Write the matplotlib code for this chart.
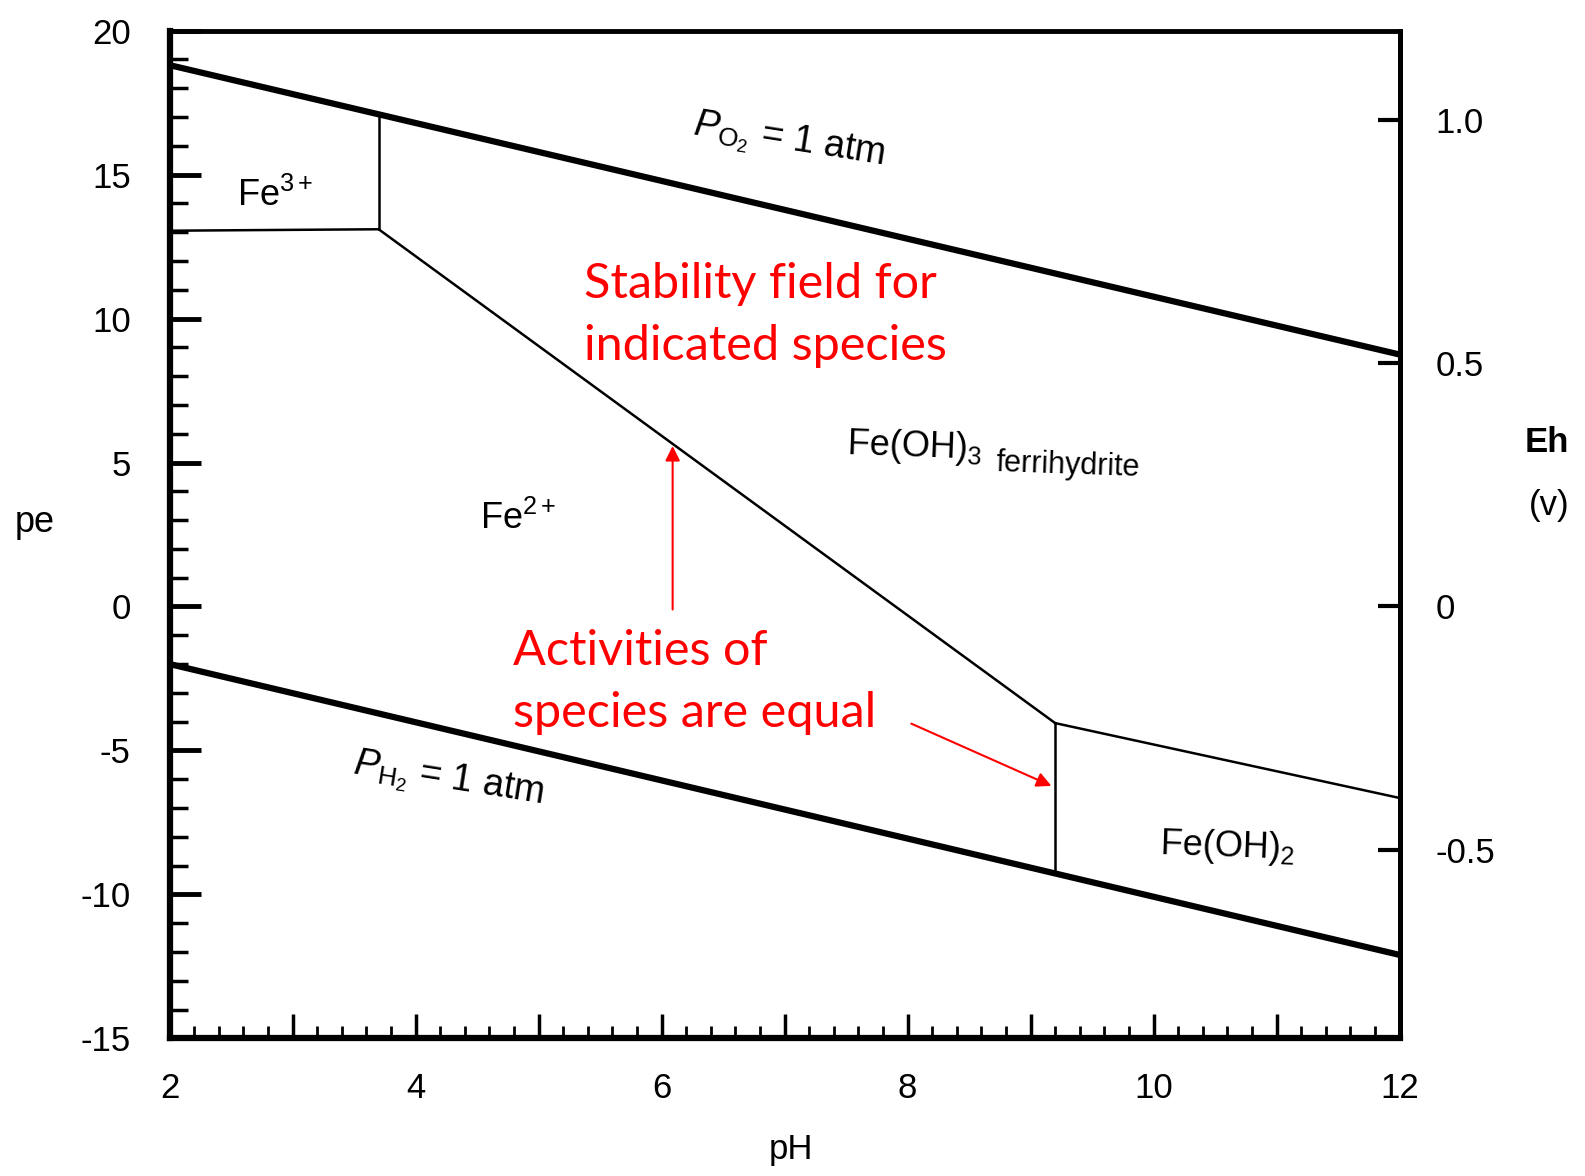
import numpy as np
import matplotlib
matplotlib.use('Agg')
import matplotlib.pyplot as plt
from matplotlib.ticker import MultipleLocator, FixedLocator

plt.rcParams['font.family'] = ['Liberation Sans', 'DejaVu Sans']
plt.rcParams['mathtext.fontset'] = 'custom'
plt.rcParams['mathtext.rm'] = 'Liberation Sans'
plt.rcParams['mathtext.it'] = 'Liberation Sans:italic'

# water stability limits (pe vs pH)
ph_o2 = [2, 12]
pe_o2 = [18.8, 8.75]
ph_h2 = [2, 12]
pe_h2 = [-2.0, -12.1]

# species boundaries
ph_fe3_fe2 = [2, 3.7]
pe_fe3_fe2 = [13.05, 13.1]
ph_fe3_oh3 = [3.7, 3.7]
pe_fe3_oh3 = [13.1, 17.1]
ph_fe2_oh3 = [3.7, 9.2]
pe_fe2_oh3 = [13.1, -4.05]
ph_oh3_oh2 = [9.2, 12]
pe_oh3_oh2 = [-4.05, -6.65]
ph_fe2_oh2 = [9.2, 9.2]
pe_fe2_oh2 = [-4.05, -9.25]

eh_ticks = [-0.5, 0, 0.5, 1.0]
eh_labels = ['-0.5', '0', '0.5', '1.0']
pe_ticks = [-15, -10, -5, 0, 5, 10, 15, 20]
ph_labels = [2, 4, 6, 8, 10, 12]

fig = plt.figure(figsize=(15.85, 11.76), dpi=100)
ax = fig.add_axes([0.107, 0.117, 0.776, 0.857])

ax.plot(ph_o2, pe_o2, color='black', lw=4.5, solid_capstyle='butt')
ax.plot(ph_h2, pe_h2, color='black', lw=4.5, solid_capstyle='butt')
for xs, ys in [(ph_fe3_fe2, pe_fe3_fe2), (ph_fe3_oh3, pe_fe3_oh3),
               (ph_fe2_oh3, pe_fe2_oh3), (ph_oh3_oh2, pe_oh3_oh2),
               (ph_fe2_oh2, pe_fe2_oh2)]:
    ax.plot(xs, ys, color='black', lw=1.8)

ax.set_xlim(2, 12)
ax.set_ylim(-15, 20)

# ticks
ax.set_xticks(np.arange(2, 13, 1))
ax.set_xticklabels([str(v) if v in ph_labels else '' for v in range(2, 13)])
ax.xaxis.set_minor_locator(MultipleLocator(0.2))
ax.yaxis.set_major_locator(FixedLocator(pe_ticks))
ax.yaxis.set_minor_locator(MultipleLocator(1))
ax.set_yticklabels([str(v) for v in pe_ticks])
ax.tick_params(axis='x', which='major', direction='in', length=17, width=2.5,
               labelsize=25, pad=24, top=False)
ax.tick_params(axis='x', which='minor', direction='in', length=9, width=2, top=False)
ax.tick_params(axis='y', which='major', direction='in', length=22, width=3.5,
               labelsize=25, pad=28, right=False)
ax.tick_params(axis='y', which='minor', direction='in', length=13, width=2.5, right=False)
for s in ax.spines.values():
    s.set_linewidth(3.5)
ax.spines['left'].set_linewidth(4.5)
ax.spines['bottom'].set_linewidth(4.5)

# Eh axis
sec = ax.secondary_yaxis('right', functions=(lambda p: p * 0.05916, lambda e: e / 0.05916))
sec.set_yticks(eh_ticks)
sec.set_yticklabels(eh_labels)
sec.tick_params(direction='in', length=16, width=3, labelsize=25, pad=26)
sec.spines['right'].set_linewidth(3.5)

# species labels
ax.text(2.55, 13.9, r'Fe$^{3+}$', fontsize=26)
ax.text(4.52, 2.7, r'Fe$^{2+}$', fontsize=26)
ax.text(7.5, 5.3, r'Fe(OH)$_{3}$', fontsize=26, rotation=-2, rotation_mode='anchor')
ax.text(8.72, 4.72, 'ferrihydrite', fontsize=22, rotation=-2, rotation_mode='anchor')
ax.text(10.05, -8.6, r'Fe(OH)$_{2}$', fontsize=26, rotation=-2, rotation_mode='anchor')
ax.text(6.25, 16.4, r'$P_{\mathrm{O}_2}$ = 1 atm', fontsize=27, rotation=-9,
        rotation_mode='anchor')
ax.text(3.48, -5.8, r'$P_{\mathrm{H}_2}$ = 1 atm', fontsize=27, rotation=-9,
        rotation_mode='anchor')

# red annotations
red = '#ff0000'
rfont = dict(fontsize=35, color=red, family=['Lato', 'DejaVu Sans'])
ax.text(5.37, 10.72, 'Stability field for', **rfont)
ax.text(5.37, 8.55, 'indicated species', **rfont)
ax.text(4.79, -2.03, 'Activities of', **rfont)
ax.text(4.79, -4.17, 'species are equal', **rfont)
ax.annotate('', xy=(6.09, 5.67), xytext=(6.09, -0.2),
            arrowprops=dict(arrowstyle='-|>', color=red, lw=1.5, mutation_scale=22))
ax.annotate('', xy=(9.19, -6.27), xytext=(8.01, -4.03),
            arrowprops=dict(arrowstyle='-|>', color=red, lw=1.5, mutation_scale=22))

# axis titles
fig.text(35 / 1585, 1 - 522 / 1176, 'pe', fontsize=26, ha='center', va='center')
fig.text(791 / 1585, 1 - 1150 / 1176, 'pH', fontsize=25, ha='center', va='center')
fig.text(1547 / 1585, 1 - 442 / 1176, 'Eh', fontsize=25, fontweight='bold',
         ha='center', va='center')
fig.text(1549 / 1585, 1 - 505 / 1176, '(v)', fontsize=25, ha='center', va='center')

fig.savefig('out.png', dpi=100, facecolor='white')
